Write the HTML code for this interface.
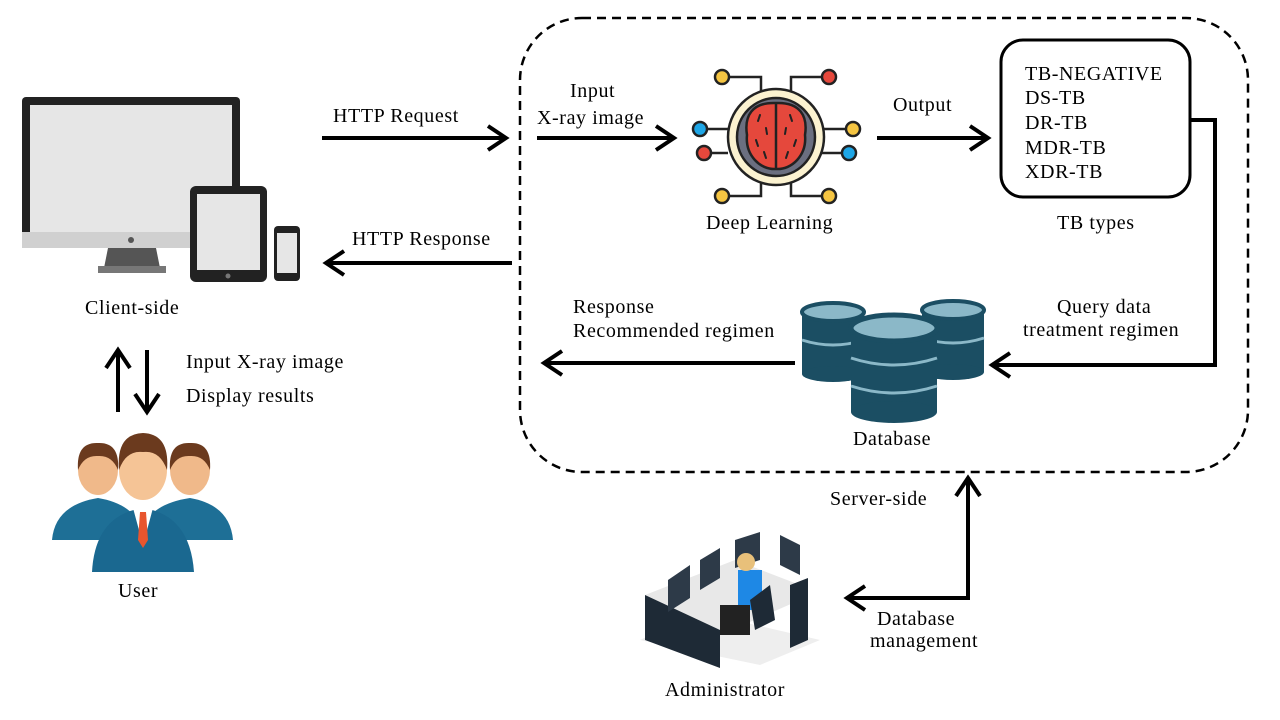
<!DOCTYPE html>
<html><head><meta charset="utf-8"><style>
html,body{margin:0;padding:0;background:#fff}
svg{display:block}
text{font-family:"Liberation Serif",serif;font-size:20px;letter-spacing:0.6px;fill:#000}
</style></head><body>
<svg width="1280" height="720" viewBox="0 0 1280 720">
<rect x="520" y="18" width="728" height="454" rx="62" fill="none" stroke="#000" stroke-width="2.5" stroke-dasharray="9,6"/>

<rect x="22" y="97" width="218" height="151" rx="4" fill="#222"/>
<rect x="30" y="105" width="202" height="127" fill="#e6e6e6"/>
<rect x="22" y="232" width="218" height="16" fill="#d0d0d0"/>
<circle cx="131" cy="240" r="3" fill="#555"/>
<polygon points="108,248 156,248 160,268 104,268" fill="#555"/>
<rect x="98" y="266" width="68" height="7" fill="#777"/>
<rect x="190" y="186" width="77" height="96" rx="6" fill="#222"/>
<rect x="197" y="194" width="63" height="76" fill="#e6e6e6"/>
<circle cx="228" cy="276" r="2.5" fill="#777"/>
<rect x="274" y="226" width="26" height="55" rx="4" fill="#222"/>
<rect x="277" y="233" width="20" height="40" fill="#e6e6e6"/>
<text x="85" y="314">Client-side</text>

<g stroke="#000" stroke-width="4" fill="none">
<line x1="322" y1="138" x2="506" y2="138"/><polyline points="488,126 506,138 488,150"/>
<line x1="512" y1="263" x2="326" y2="263"/><polyline points="344,251 326,263 344,275"/>
<line x1="537" y1="138" x2="674" y2="138"/><polyline points="656,126 674,138 656,150"/>
<line x1="877" y1="138" x2="988" y2="138"/><polyline points="970,126 988,138 970,150"/>
<polyline points="1190,120 1215,120 1215,365 992,365"/><polyline points="1010,353 992,365 1010,377"/>
<line x1="795" y1="363" x2="544" y2="363"/><polyline points="562,351 544,363 562,375"/>
<polyline points="968,480 968,598 847,598"/><polyline points="956,496 968,478 980,496"/><polyline points="865,586 847,598 865,610"/>
<line x1="118" y1="412" x2="118" y2="352"/><polyline points="106,368 118,350 130,368"/>
<line x1="147" y1="350" x2="147" y2="410"/><polyline points="135,394 147,412 159,394"/>
</g>
<text x="333" y="122">HTTP  Request</text>
<text x="352" y="245">HTTP  Response</text>
<text x="570" y="97">Input</text>
<text x="537" y="124">X-ray image</text>
<text x="893" y="111">Output</text>
<text x="186" y="368">Input X-ray image</text>
<text x="186" y="402">Display results</text>

<g stroke="#222" stroke-width="2.5" fill="none">
<polyline points="724,77 761,77 761,95"/><polyline points="828,77 791,77 791,95"/>
<polyline points="724,196 761,196 761,180"/><polyline points="828,196 791,196 791,180"/>
<line x1="700" y1="129" x2="728" y2="129"/><line x1="700" y1="153" x2="728" y2="153"/>
<line x1="850" y1="129" x2="822" y2="129"/><line x1="850" y1="153" x2="822" y2="153"/>
</g>
<g stroke="#222" stroke-width="2.5">
<circle cx="722" cy="77" r="7" fill="#f5c542"/><circle cx="829" cy="77" r="7" fill="#e5483c"/>
<circle cx="722" cy="196" r="7" fill="#f5c542"/><circle cx="829" cy="196" r="7" fill="#f5c542"/>
<circle cx="700" cy="129" r="7" fill="#1ea6e6"/><circle cx="704" cy="153" r="7" fill="#e5483c"/>
<circle cx="853" cy="129" r="7" fill="#f5c542"/><circle cx="849" cy="153" r="7" fill="#1ea6e6"/>
<circle cx="776" cy="137" r="48" fill="#fbf2d0"/>
<circle cx="776" cy="137" r="39" fill="#6b6f80"/>
<path d="M776 103 C752 102 744 116 747 135 C745 155 760 170 776 169 C792 170 807 155 805 135 C808 116 800 102 776 103Z" fill="#e5483c"/>
<line x1="776" y1="103" x2="776" y2="169"/>
</g>
<g stroke="#222" stroke-width="2" stroke-linecap="round">
<line x1="760" y1="115" x2="758" y2="121"/><line x1="766" y1="128" x2="767" y2="134"/><line x1="756" y1="140" x2="758" y2="146"/><line x1="764" y1="152" x2="766" y2="158"/>
<line x1="790" y1="115" x2="792" y2="121"/><line x1="786" y1="128" x2="785" y2="134"/><line x1="796" y1="140" x2="794" y2="146"/><line x1="788" y1="152" x2="786" y2="158"/>
</g>
<text x="706" y="229">Deep Learning</text>

<rect x="1001" y="40" width="189" height="157" rx="22" fill="#fff" stroke="#000" stroke-width="3"/>
<text x="1025" y="80">TB-NEGATIVE</text>
<text x="1025" y="104">DS-TB</text>
<text x="1025" y="129">DR-TB</text>
<text x="1025" y="154">MDR-TB</text>
<text x="1025" y="178">XDR-TB</text>
<text x="1057" y="229">TB types</text>
<text x="1057" y="313">Query data</text>
<text x="1023" y="336">treatment regimen</text>
<text x="573" y="313">Response</text>
<text x="573" y="337">Recommended regimen</text>

<g>
<rect x="802" y="312" width="62" height="62" fill="#1b4e63"/><ellipse cx="833" cy="374" rx="31" ry="8" fill="#1b4e63"/><ellipse cx="833" cy="312" rx="31" ry="9" fill="#8bb8c8" stroke="#1b4e63" stroke-width="4"/>
<rect x="922" y="310" width="62" height="62" fill="#1b4e63"/><ellipse cx="953" cy="372" rx="31" ry="8" fill="#1b4e63"/><ellipse cx="953" cy="310" rx="31" ry="9" fill="#8bb8c8" stroke="#1b4e63" stroke-width="4"/>
<path d="M802 340 Q833 350 864 340 M922 338 Q953 348 984 338" stroke="#8bb8c8" stroke-width="3" fill="none"/>
<rect x="851" y="328" width="86" height="84" fill="#1b4e63"/><ellipse cx="894" cy="412" rx="43" ry="11" fill="#1b4e63"/>
<ellipse cx="894" cy="328" rx="43" ry="13" fill="#8bb8c8" stroke="#1b4e63" stroke-width="5"/>
<path d="M851 358 Q894 372 937 358 M851 386 Q894 400 937 386" stroke="#8bb8c8" stroke-width="3" fill="none"/>
</g>
<text x="853" y="445">Database</text>
<text x="830" y="505">Server-side</text>
<text x="877" y="625">Database</text>
<text x="870" y="647">management</text>

<g>
<polygon points="640,640 760,665 820,640 700,612" fill="#eeeeee"/>
<polygon points="645,595 735,560 800,585 800,600 720,635 645,615" fill="#e8e8e8"/>
<polygon points="645,595 720,630 720,668 645,640" fill="#1e2a36"/>
<polygon points="790,585 808,578 808,640 790,648" fill="#1e2a36"/>
<polygon points="668,580 690,565 690,598 668,612" fill="#2d3a48"/>
<polygon points="700,560 720,548 720,578 700,590" fill="#2d3a48"/>
<polygon points="735,540 760,532 760,560 735,568" fill="#2d3a48"/>
<polygon points="780,535 800,545 800,575 780,565" fill="#2d3a48"/>
<rect x="738" y="570" width="24" height="40" fill="#1e88e5"/>
<circle cx="746" cy="562" r="9" fill="#e8c07a"/>
<rect x="720" y="605" width="30" height="30" fill="#222"/>
<polygon points="750,600 770,585 775,620 755,630" fill="#1e2a36"/>
</g>
<text x="665" y="696">Administrator</text>

<g>
<path d="M52 540 Q55 505 98 498 Q140 505 145 540Z" fill="#1e6f96"/>
<path d="M140 540 Q143 505 190 498 Q230 505 233 540Z" fill="#1e6f96"/>
<ellipse cx="98" cy="470" rx="20" ry="25" fill="#f0b98a"/><path d="M78 470 Q76 442 98 443 Q120 442 118 470 Q112 455 98 456 Q84 455 78 470Z" fill="#6b3a1e"/>
<ellipse cx="190" cy="470" rx="20" ry="25" fill="#f0b98a"/><path d="M170 470 Q168 442 190 443 Q212 442 210 470 Q204 455 190 456 Q176 455 170 470Z" fill="#6b3a1e"/>
<path d="M92 572 Q95 515 143 508 Q190 515 194 572Z" fill="#1a6890"/>
<polygon points="133,508 153,508 143,545" fill="#fff"/>
<polygon points="140,512 146,512 148,540 143,548 138,540" fill="#e8552e"/>
<ellipse cx="143" cy="470" rx="24" ry="30" fill="#f5c496"/>
<path d="M119 470 Q116 434 143 433 Q170 434 167 470 Q160 450 143 452 Q126 450 119 470Z" fill="#6b3a1e"/>
</g>
<text x="118" y="597">User</text>
</svg>
</body></html>
